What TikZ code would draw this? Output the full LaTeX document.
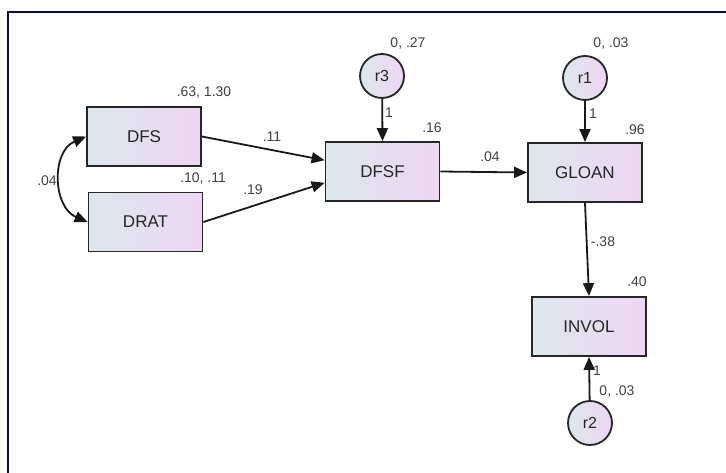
\documentclass[tikz,border=0pt]{standalone}
\usepackage{fontspec}
\setmainfont{Liberation Sans}
\usetikzlibrary{arrows.meta}
\definecolor{boxleft}{HTML}{DDE7EC}
\definecolor{boxright}{HTML}{EDD6F3}
\definecolor{frameblue}{HTML}{0A0A45}

\begin{document}
\begin{tikzpicture}[x=1pt,y=-1pt,
		obs/.style={draw=black!85, line width=1.8pt, left color=boxleft, right color=boxright, minimum width=114pt, minimum height=59pt, inner sep=0pt, font=\fontsize{17}{19}\selectfont, text=black!85},
		err/.style={circle, draw=black!85, line width=1.8pt, left color=boxleft, right color=boxright, minimum size=44pt, inner sep=0pt, font=\fontsize{16}{18}\selectfont, text=black!85},
		lbl/.style={font=\fontsize{14}{16}\selectfont, text=black!75, inner sep=0pt},
		path/.style={line width=1.8pt, black!90, -{Triangle[length=13pt,width=11pt]}}]
			\useasboundingbox (0,0) rectangle (726,473);
			\draw[frameblue, line width=2.4pt] (8,473) -- (8,12) -- (726,12);
			% observed variables
			\node[obs] (DFS) at (144,136.5) {DFS};
			\node[obs] (DRAT) at (145.5,222) {DRAT};
			\node[obs] (DFSF) at (382.5,171.5) {DFSF};
			\node[obs] (GLOAN) at (585,172.5) {GLOAN};
			\node[obs] (INVOL) at (589,326.5) {INVOL};
			% residuals
			\node[err] (r3) at (382,76) {r3};
			\node[err] (r1) at (585,78) {r1};
			\node[err] (r2) at (590,423) {r2};
			% paths
			\draw[path] (DFS.east) -- (DFSF.169);
			\draw[path] (DRAT.east) -- (DFSF.191);
			\draw[path] (DFSF.east) -- (GLOAN.west);
			\draw[path] (GLOAN.south) -- (INVOL.north);
			\draw[path] (r3) -- (DFSF.north);
			\draw[path] (r1) -- (GLOAN.north);
			\draw[path] (r2) -- (INVOL.south);
			\draw[line width=1.8pt, black!90, {Triangle[length=13pt,width=11pt]}-{Triangle[length=13pt,width=11pt]}] (DFS.west) .. controls +(-35,15) and +(-35,-15) .. (DRAT.west);
			% estimates
			\node[lbl] (vDFS) at (204,93) {.63, 1.30};
			\node[lbl] (vDRAT) at (203,179) {.10, .11};
			\node[lbl] (cov) at (47,181) {.04};
			\node[lbl] (bDFS) at (272,137) {.11};
			\node[lbl] (bDRAT) at (253,190) {.19};
			\node[lbl] (vr3) at (408,44) {0, .27};
			\node[lbl] (wr3) at (389,113) {1};
			\node[lbl] (rDFSF) at (432,128) {.16};
			\node[lbl] (bDFSF) at (490,157) {.04};
			\node[lbl] (vr1) at (611,44) {0, .03};
			\node[lbl] (wr1) at (593,114) {1};
			\node[lbl] (rGLOAN) at (635,130) {.96};
			\node[lbl] (bGLOAN) at (603,242) {-.38};
			\node[lbl] (rINVOL) at (637,282) {.40};
			\node[lbl] (wr2) at (597,371) {1};
			\node[lbl] (vr2) at (617,392) {0, .03};
		\end{tikzpicture}
\end{document}
